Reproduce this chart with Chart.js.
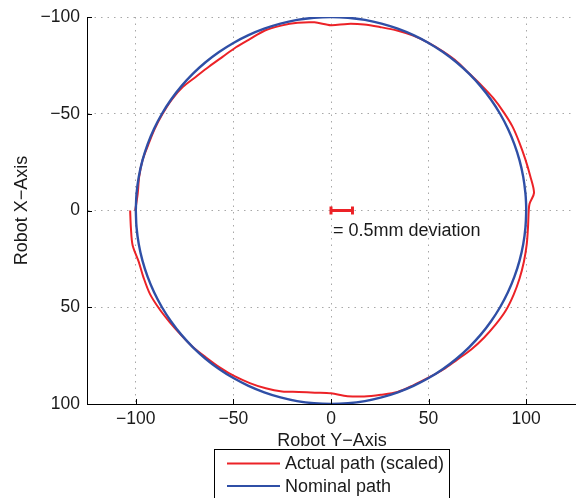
<!DOCTYPE html>
<html>
<head>
<meta charset="utf-8">
<script src="https://cdn.jsdelivr.net/npm/chart.js@4.4.0/dist/chart.umd.min.js"></script>
<style>
  html, body { margin: 0; padding: 0; background: #fff; }
  #wrap { width: 576px; height: 498px; }
</style>
</head>
<body>
<div id="wrap"><canvas id="pathChart" width="576" height="498"></canvas></div>
<script>
// polar samples of the measured path (angle in degrees, radius in plot units)
const pathAngles = [180, 185, 190, 195, 200, 205, 210, 215, 220, 225, 230, 235, 240, 245, 250, 255, 260, 265,
    270, 275, 280, 285, 290, 295, 300, 305, 310, 315, 320, 325, 330, 335, 340, 345, 350, 355, 358,
    360, 365, 370, 375, 380, 385, 390, 395, 400, 405, 410, 415, 420, 425, 430, 435, 440, 445,
    450, 455, 460, 465, 470, 475, 480, 485, 490, 495, 500, 505, 510, 515, 520, 525, 530, 535, 540];
const actualRadius = [100.3, 99.4, 99.8, 100.0, 99.6, 99.7, 99.7, 99.7, 99.2, 97.8, 97.1, 96.9, 97.4, 97.9, 99.0, 98.9, 98.5, 97.6,
    95.7, 96.8, 97.6, 98.1, 99.0, 99.7, 100.0, 100.2, 100.4, 100.1, 100.6, 101.4, 102.0, 102.6, 102.7, 103.0, 103.6, 104.4, 101.8,
    101.3, 101.3, 101.8, 102.3, 102.8, 103.2, 103.4, 102.9, 102.3, 101.6, 100.6, 100.3, 99.8, 99.7, 99.8, 98.6, 97.6, 96.3,
    94.5, 94.5, 95.2, 96.8, 97.8, 98.4, 98.9, 99.1, 99.3, 99.9, 100.2, 100.8, 101.6, 102.3, 102.1, 102.0, 103.2, 102.9, 102.9];
const nominalRadius = 100;
const deviationBar = [0, 11];
const xTicks = [-100, -50, 0, 50, 100];
const yTicks = [-100, -50, 0, 50, 100];
const seriesLabels = ['Actual path (scaled)', 'Nominal path'];

const red = '#ec2227';
const blue = '#2f4fa6';
const fontFamily = '"Liberation Sans", Arial, Helvetica, sans-serif';

function toXY(deg, r) {
    const a = deg * Math.PI / 180;
    return { x: r * Math.cos(a), y: r * Math.sin(a) };
}
const actualPoints = pathAngles.map((a, i) => toXY(a, actualRadius[i]));
const nominalPoints = pathAngles.map(a => toXY(a, nominalRadius));

function minusLabel(v) {
    return v < 0 ? '\u2212' + Math.abs(v) : String(v);
}

const extrasPlugin = {
    id: 'extras',
    afterDraw(chart) {
        const { ctx, chartArea: area, scales: { x, y } } = chart;
        ctx.save();
        // ticks pointing inward
        ctx.strokeStyle = '#000';
        ctx.lineWidth = 1;
        xTicks.forEach(v => {
            const px = Math.round(x.getPixelForValue(v)) + 0.5;
            ctx.beginPath();
            ctx.moveTo(px, area.bottom);
            ctx.lineTo(px, area.bottom - 5);
            ctx.stroke();
        });
        yTicks.forEach(v => {
            const py = Math.round(y.getPixelForValue(v)) + 0.5;
            ctx.beginPath();
            ctx.moveTo(area.left, py);
            ctx.lineTo(area.left + 5, py);
            ctx.stroke();
        });

        ctx.fillStyle = '#1a1a1a';
        ctx.font = '18px ' + fontFamily;
        ctx.textAlign = 'center';
        ctx.textBaseline = 'middle';
        ctx.fillText('Robot Y\u2212Axis', x.getPixelForValue(0) + 1, 441);

        ctx.save();
        ctx.translate(22, y.getPixelForValue(0));
        ctx.rotate(-Math.PI / 2);
        ctx.fillText('Robot X\u2212Axis', 0, 0);
        ctx.restore();

        // deviation note
        ctx.textAlign = 'left';
        ctx.fillText('= 0.5mm deviation', x.getPixelForValue(0) + 2, 231);

        // legend box
        ctx.lineWidth = 1;
        ctx.strokeStyle = '#000';
        ctx.fillStyle = '#fff';
        ctx.fillRect(214.5, 449.5, 235, 60);
        ctx.strokeRect(214.5, 449.5, 235, 60);
        const rows = [[seriesLabels[0], red, 463.5], [seriesLabels[1], blue, 486]];
        rows.forEach(([label, color, ry]) => {
            ctx.strokeStyle = color;
            ctx.lineWidth = 2;
            ctx.beginPath();
            ctx.moveTo(227, ry);
            ctx.lineTo(280, ry);
            ctx.stroke();
            ctx.fillStyle = '#1a1a1a';
            ctx.fillText(label, 285, ry + 1);
        });
        ctx.restore();
    }
};

const ctx = document.getElementById('pathChart').getContext('2d');
new Chart(ctx, {
    type: 'scatter',
    data: {
        datasets: [
            {
                label: seriesLabels[0],
                data: actualPoints,
                showLine: true,
                borderColor: red,
                borderWidth: 2,
                pointRadius: 0,
                tension: 0.3,
                order: 2
            },
            {
                label: seriesLabels[1],
                data: nominalPoints,
                showLine: true,
                borderColor: blue,
                borderWidth: 2.4,
                pointRadius: 0,
                tension: 0.4,
                order: 1
            },
            {
                label: 'deviation',
                data: deviationBar.map(v => ({ x: v, y: 0 })),
                showLine: true,
                borderColor: red,
                backgroundColor: red,
                borderWidth: 3,
                pointStyle: 'line',
                rotation: 90,
                pointRadius: 4,
                pointBorderWidth: 3,
                order: 0
            }
        ]
    },
    options: {
        responsive: false,
        animation: false,
        layout: { autoPadding: false, padding: { left: 0, top: 17, right: 1, bottom: 0 } },
        plugins: {
            legend: { display: false },
            tooltip: { enabled: false }
        },
        scales: {
            x: {
                type: 'linear',
                min: -125,
                max: 125,
                afterBuildTicks: s => { s.ticks = xTicks.map(v => ({ value: v })); },
                afterFit: s => { s.height = 94; s.paddingLeft = 0; s.paddingRight = 0; },
                ticks: {
                    callback: minusLabel,
                    color: '#1a1a1a',
                    padding: 5,
                    maxRotation: 0,
                    font: { family: fontFamily, size: 17.5 }
                },
                grid: { color: '#a8a8a8', drawTicks: false, lineWidth: 1 },
                border: { display: true, color: '#000', width: 1, dash: [1.5, 5] }
            },
            y: {
                type: 'linear',
                reverse: true,
                min: -100,
                max: 100,
                afterBuildTicks: s => { s.ticks = yTicks.map(v => ({ value: v })); },
                afterFit: s => { s.width = 87; s.paddingTop = 0; s.paddingBottom = 0; },
                ticks: {
                    callback: minusLabel,
                    color: '#1a1a1a',
                    padding: 7,
                    font: { family: fontFamily, size: 17.5 }
                },
                grid: { color: '#a8a8a8', drawTicks: false, lineWidth: 1 },
                border: { display: true, color: '#000', width: 1, dash: [1.5, 5] }
            }
        }
    },
    plugins: [extrasPlugin]
});
</script>
</body>
</html>
